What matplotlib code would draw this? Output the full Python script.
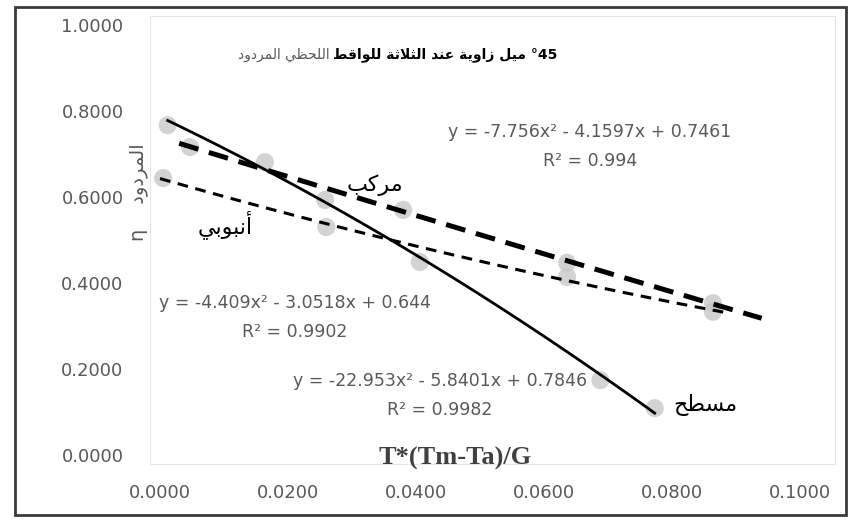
import numpy as np
from matplotlib import pyplot as plt
from matplotlib.patches import Rectangle

# data: x = T*(Tm-Ta)/G, y = efficiency
flat_x = [0.0012, 0.0164, 0.0258, 0.0406, 0.0688, 0.0773]
flat_y = [0.767, 0.681, 0.593, 0.449, 0.174, 0.109]
comp_x = [0.0047, 0.0380, 0.0636, 0.0864]
comp_y = [0.716, 0.570, 0.447, 0.353]
tube_x = [0.0005, 0.0260, 0.0636, 0.0864]
tube_y = [0.644, 0.530, 0.414, 0.333]

x_ticks = [0.0, 0.02, 0.04, 0.06, 0.08, 0.10]
x_tick_labels = ["0.0000", "0.0200", "0.0400", "0.0600", "0.0800", "0.1000"]
y_ticks = [0.0, 0.2, 0.4, 0.6, 0.8, 1.0]

comp_eq = "y = -7.756x² - 4.1597x + 0.7461\nR² = 0.994"
tube_eq = "y = -4.409x² - 3.0518x + 0.644\nR² = 0.9902"
flat_eq = "y = -22.953x² - 5.8401x + 0.7846\nR² = 0.9982"

# minimal arabic shaping (matplotlib has no complex text layout)
FORMS = {
    'ا': ('\uFE8D', '\uFE8E', None, None),
    'أ': ('\uFE83', '\uFE84', None, None),
    'ب': ('\uFE8F', '\uFE90', '\uFE91', '\uFE92'),
    'ة': ('\uFE93', '\uFE94', None, None),
    'ث': ('\uFE99', '\uFE9A', '\uFE9B', '\uFE9C'),
    'ح': ('\uFEA1', '\uFEA2', '\uFEA3', '\uFEA4'),
    'د': ('\uFEA9', '\uFEAA', None, None),
    'ر': ('\uFEAD', '\uFEAE', None, None),
    'ز': ('\uFEAF', '\uFEB0', None, None),
    'س': ('\uFEB1', '\uFEB2', '\uFEB3', '\uFEB4'),
    'ط': ('\uFEC1', '\uFEC2', '\uFEC3', '\uFEC4'),
    'ظ': ('\uFEC5', '\uFEC6', '\uFEC7', '\uFEC8'),
    'ع': ('\uFEC9', '\uFECA', '\uFECB', '\uFECC'),
    'ق': ('\uFED5', '\uFED6', '\uFED7', '\uFED8'),
    'ك': ('\uFED9', '\uFEDA', '\uFEDB', '\uFEDC'),
    'ل': ('\uFEDD', '\uFEDE', '\uFEDF', '\uFEE0'),
    'م': ('\uFEE1', '\uFEE2', '\uFEE3', '\uFEE4'),
    'ن': ('\uFEE5', '\uFEE6', '\uFEE7', '\uFEE8'),
    'و': ('\uFEED', '\uFEEE', None, None),
    'ي': ('\uFEF1', '\uFEF2', '\uFEF3', '\uFEF4'),
    'ى': ('\uFEEF', '\uFEF0', None, None),
    'لا': ('\uFEFB', '\uFEFC', None, None),
    'لأ': ('\uFEF7', '\uFEF8', None, None),
}


def shape_word(word):
    tokens = []
    i = 0
    while i < len(word):
        if word[i] == 'ل' and i + 1 < len(word) and word[i + 1] in 'اأ':
            tokens.append(word[i:i + 2])
            i += 2
        else:
            tokens.append(word[i])
            i += 1
    out = []
    for k, t in enumerate(tokens):
        f = FORMS.get(t)
        if f is None:
            out.append(t)
            continue
        prev_f = FORMS.get(tokens[k - 1]) if k > 0 else None
        joins_prev = prev_f is not None and prev_f[2] is not None
        joins_next = k + 1 < len(tokens) and tokens[k + 1] in FORMS and f[2] is not None
        if joins_prev and joins_next:
            out.append(f[3])
        elif joins_prev:
            out.append(f[1])
        elif joins_next:
            out.append(f[2])
        else:
            out.append(f[0])
    return ''.join(out[::-1])


def ar(text):
    return ' '.join(shape_word(w) for w in text.split(' '))


plt.rcParams['font.family'] = ['DejaVu Sans']
gray = '#595959'

fig = plt.figure(figsize=(8.48, 5.2), dpi=100)
fig.patch.set_facecolor('white')
ax = fig.add_axes([0.1769, 0.1085, 0.8078, 0.86])

for xs, ys, start, end, style, lw in [
        (flat_x, flat_y, 0.0012, 0.0773, '-', 2.0),
        (comp_x, comp_y, 0.003, 0.094, (0, (4, 2.2)), 3.6),
        (tube_x, tube_y, 0.0, 0.088, (0, (3.5, 2.5)), 2.2)]:
    ax.scatter(xs, ys, s=170, color='#c8c8c8', alpha=0.8, edgecolors='none', zorder=2)
    coef = np.polyfit(xs, ys, 2)
    xx = np.linspace(start, end, 100)
    ax.plot(xx, np.polyval(coef, xx), color='black', lw=lw, linestyle=style, zorder=3)

ax.set_xlim(-0.00156, 0.10547)
ax.set_ylim(-0.02, 1.02)
ax.set_xticks(x_ticks)
ax.set_xticklabels(x_tick_labels)
ax.set_yticks(y_ticks)
ax.yaxis.set_major_formatter(plt.FormatStrFormatter('%.4f'))
ax.tick_params(length=0, labelsize=13, labelcolor=gray)
ax.tick_params(axis='x', pad=15)
ax.tick_params(axis='y', pad=19)
for s in ax.spines.values():
    s.set_color('#e6e6e6')

ax.text(0.0672, 0.717, comp_eq, ha='center', va='center', fontsize=12.5,
        color=gray, linespacing=1.8)
ax.text(0.0211, 0.319, tube_eq, ha='center', va='center', fontsize=12.5,
        color=gray, linespacing=1.8)
ax.text(0.0437, 0.138, flat_eq, ha='center', va='center', fontsize=12.5,
        color=gray, linespacing=1.8)

ax.text(0.0336, 0.628, ar('مركب'), ha='center', va='center', fontsize=16, color='black')
ax.text(0.0102, 0.535, ar('أنبوبي'), ha='center', va='center', fontsize=16, color='black')
ax.text(0.0852, 0.116, ar('مسطح'), ha='center', va='center', fontsize=16, color='black')

ax.text(0.0461, -0.007, "T*(Tm-Ta)/G", ha='center', va='center', fontsize=19,
        fontweight='bold', family='Liberation Serif', color='#404040')

fig.text(330 / 848, 1 - 55 / 520, ar('المردود اللحظي'), ha='right', va='center',
         fontsize=10, color=gray)
fig.text(333 / 848, 1 - 55 / 520, ar('للواقط الثلاثة عند زاوية ميل') + ' °45',
         ha='left', va='center', fontsize=10, fontweight='bold', color='black')

fig.text(138 / 848, 1 - 192 / 520, 'η    ' + ar('المردود'), rotation=90,
         ha='center', va='center', fontsize=14, color=gray)

fig.add_artist(Rectangle((15 / 848, 5 / 520), 831 / 848, 508 / 520,
                         transform=fig.transFigure, fill=False,
                         edgecolor='#3a3a3a', lw=2))

plt.savefig("out.png", dpi=100)
